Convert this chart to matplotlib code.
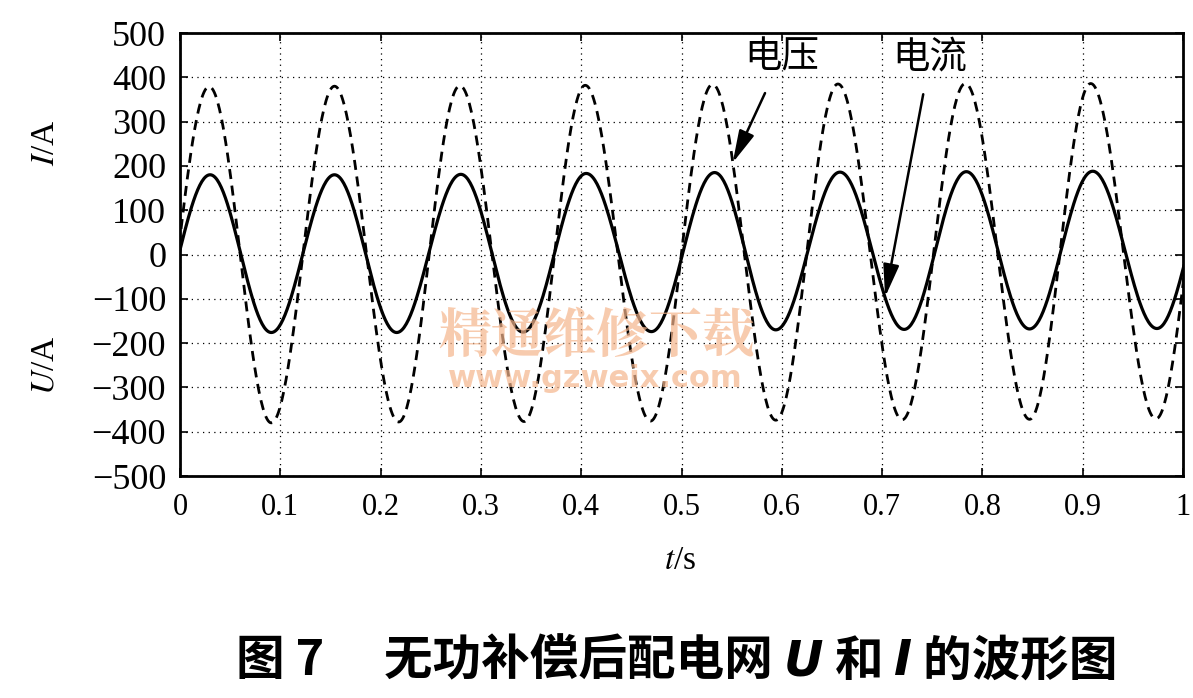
import numpy as np
import matplotlib
matplotlib.use("Agg")
import matplotlib.pyplot as plt

# 波形极值点，首尾各多一个点超出坐标范围，由 xlim 裁掉
u_t = [-0.033, 0.029, 0.091, 0.154, 0.218, 0.279, 0.343, 0.404, 0.469,
       0.531, 0.594, 0.656, 0.720, 0.783, 0.847, 0.908, 0.973, 1.035]
u_v = [-378, 379, -380, 380, -378, 381, -377, 382, -376,
       384, -374, 385, -373, 386, -372, 386, -371, 387]

i_t = [-0.032, 0.030, 0.091, 0.154, 0.216, 0.280, 0.342, 0.405, 0.470,
       0.533, 0.594, 0.658, 0.722, 0.784, 0.847, 0.910, 0.974, 1.036]
i_v = [-176, 180, -176, 180, -176, 181, -175, 183, -174,
       185, -170, 186, -169, 187, -168, 188, -167, 189]

x_ticks = [0, 0.1, 0.2, 0.3, 0.4, 0.5, 0.6, 0.7, 0.8, 0.9, 1]
x_labels = ["0", "0.1", "0.2", "0.3", "0.4", "0.5", "0.6", "0.7", "0.8", "0.9", "1"]
y_ticks = list(range(-500, 501, 100))


def wave(tt, vv, n=60):
    # 相邻极值之间用半个余弦连接
    xs, ys = [], []
    for k in range(len(tt) - 1):
        s = np.linspace(0, 1, n, endpoint=False)
        a, b = vv[k], vv[k + 1]
        xs.append(tt[k] + s * (tt[k + 1] - tt[k]))
        ys.append((a + b) / 2 + (a - b) / 2 * np.cos(np.pi * s))
    xs.append([tt[-1]])
    ys.append([vv[-1]])
    return np.concatenate(xs), np.concatenate(ys)


serif = "Liberation Serif"
cjk = ["Noto Sans CJK SC", "DejaVu Sans"]

fig = plt.figure(figsize=(11.93, 6.98), dpi=100)
ax = fig.add_axes([0.1509, 0.318, 0.8407, 0.6347])

x, y = wave(u_t, u_v)
ax.plot(x, y, color="black", lw=2.0, ls=(0, (3.6, 2.4)))
x, y = wave(i_t, i_v)
ax.plot(x, y, color="black", lw=2.3)

ax.set_xlim(0, 1)
ax.set_ylim(-500, 500)
ax.set_xticks(x_ticks)
ax.set_xticklabels(x_labels, fontfamily=serif, fontsize=22)
ax.set_yticks(y_ticks)
ax.set_yticklabels([str(v).replace("-", "\u2212") for v in y_ticks],
                   fontfamily=serif, fontsize=26)
ax.tick_params(direction="in", top=True, right=True, length=6, width=1.2)
ax.tick_params(axis="x", pad=12)
ax.tick_params(axis="y", pad=10)
ax.grid(True, ls=(0, (1, 3.5)), color="black", lw=0.9)
for s in ax.spines.values():
    s.set_linewidth(2)

# 坐标轴标题
fig.text(0.038, 0.795, "$\\mathit{I}$/A", rotation=90, ha="center", va="center",
         fontfamily=serif, fontsize=24, math_fontfamily="stix")
fig.text(0.038, 0.477, "$\\mathit{U}$/A", rotation=90, ha="center", va="center",
         fontfamily=serif, fontsize=24, math_fontfamily="stix")
fig.text(0.57, 0.197, "$\\mathit{t}$/s", ha="center", va="center",
         fontfamily=serif, fontsize=24, math_fontfamily="stix")

# 标注
arrow = dict(arrowstyle="-|>,head_length=0.9,head_width=0.22",
             color="black", lw=1.8, mutation_scale=22, shrinkA=11, shrinkB=0)
ax.annotate("电压", xy=(0.551, 207), xytext=(0.600, 446), ha="center", va="center",
            fontfamily=cjk, fontsize=27, arrowprops=arrow)
ax.annotate("电流", xy=(0.703, -96), xytext=(0.748, 446), ha="center", va="center",
            fontfamily=cjk, fontsize=27, arrowprops=arrow)

# 水印
fig.text(0.500, 0.517, "精通维修下载", ha="center", va="center", color="#f5b58c",
         alpha=0.7, fontfamily=["Noto Serif CJK SC", "Noto Sans CJK SC"],
         fontsize=38, fontweight="bold")
fig.text(0.499, 0.458, "www.gzweix.com", ha="center", va="center", color="#f5b58c",
         alpha=0.7, fontfamily="DejaVu Sans", fontsize=22, fontweight="bold")

# 图题（U、I 用斜体）
parts = [("图 7\u3000 无功补偿后配电网 ", cjk, "normal"),
         ("U", "DejaVu Sans", "oblique"),
         (" 和 ", cjk, "normal"),
         ("I", "DejaVu Sans", "oblique"),
         (" 的波形图", cjk, "normal")]
fig.canvas.draw()
r = fig.canvas.get_renderer()
xpos = 0.198
for txt, fam, st in parts:
    t = fig.text(xpos, 0.053, txt, ha="left", va="center", fontfamily=fam,
                 fontsize=35, fontweight="bold", fontstyle=st)
    bb = t.get_window_extent(renderer=r)
    xpos += bb.width / fig.bbox.width

fig.savefig("out.png", dpi=100)
